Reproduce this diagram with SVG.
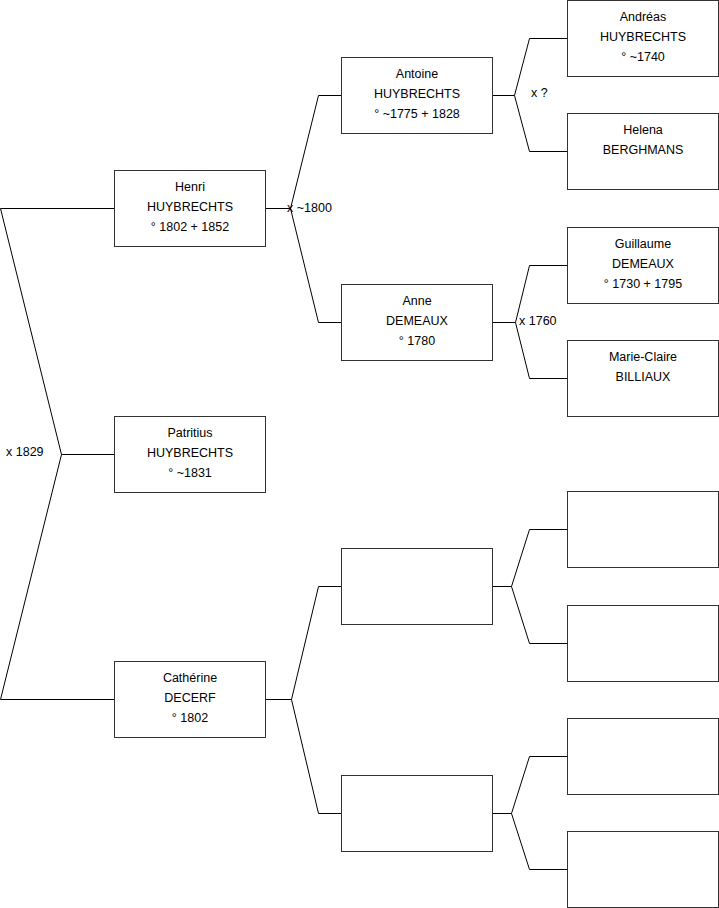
<svg xmlns="http://www.w3.org/2000/svg" width="719" height="908" viewBox="0 0 719 908">
<style>
.box{fill:#fff;stroke:#333;stroke-width:1}
.ln{fill:none;stroke:#000;stroke-width:1}
text{font-family:"Liberation Sans",Arial,sans-serif;font-size:12.5px;fill:#000}
.c{text-anchor:middle}
</style>
<rect width="719" height="908" fill="#fff"/>
<g id="connectors">
<polyline class="ln" points="114,208.5 0.5,208.5 61.5,454.5 0.5,699.5 114,699.5"/>
<line class="ln" x1="61.5" y1="454.5" x2="114" y2="454.5"/>
<polyline class="ln" points="265,208.5 290.5,208.5"/>
<polyline class="ln" points="341,95.5 318.5,95.5 290.5,208.5 318.5,322.5 341,322.5"/>
<polyline class="ln" points="492,95.5 514.5,95.5"/>
<polyline class="ln" points="567,38.5 529.5,38.5 514.5,95.5 529.5,151.5 567,151.5"/>
<polyline class="ln" points="492,322.5 515.5,322.5"/>
<polyline class="ln" points="567,265.5 529.5,265.5 515.5,322.5 529.5,378.5 567,378.5"/>
<polyline class="ln" points="265,699.5 291.5,699.5"/>
<polyline class="ln" points="341,586.5 318.5,586.5 291.5,699.5 318.5,813.5 341,813.5"/>
<polyline class="ln" points="492,586.5 511.5,586.5"/>
<polyline class="ln" points="567,529.5 529.5,529.5 511.5,586.5 529.5,643.5 567,643.5"/>
<polyline class="ln" points="492,813.5 511.5,813.5"/>
<polyline class="ln" points="567,756.5 529.5,756.5 511.5,813.5 529.5,869.5 567,869.5"/>
<text x="6" y="456">x 1829</text>
<text x="287" y="212">x ~1800</text>
<text x="531" y="97">x ?</text>
<text x="519" y="325">x 1760</text>
</g>
<g id="henri"><rect class="box" x="114.5" y="170.5" width="151" height="76"/>
<text class="c" x="190" y="191">Henri</text><text class="c" x="190" y="211">HUYBRECHTS</text><text class="c" x="190" y="231">° 1802 + 1852</text></g>
<g id="patritius"><rect class="box" x="114.5" y="416.5" width="151" height="76"/>
<text class="c" x="190" y="437">Patritius</text><text class="c" x="190" y="457">HUYBRECHTS</text><text class="c" x="190" y="477">° ~1831</text></g>
<g id="catherine"><rect class="box" x="114.5" y="661.5" width="151" height="76"/>
<text class="c" x="190" y="682">Cathérine</text><text class="c" x="190" y="702">DECERF</text><text class="c" x="190" y="722">° 1802</text></g>
<g id="antoine"><rect class="box" x="341.5" y="57.5" width="151" height="76"/>
<text class="c" x="417" y="78">Antoine</text><text class="c" x="417" y="98">HUYBRECHTS</text><text class="c" x="417" y="118">° ~1775 + 1828</text></g>
<g id="anne"><rect class="box" x="341.5" y="284.5" width="151" height="76"/>
<text class="c" x="417" y="305">Anne</text><text class="c" x="417" y="325">DEMEAUX</text><text class="c" x="417" y="345">° 1780</text></g>
<g id="empty1"><rect class="box" x="341.5" y="548.5" width="151" height="76"/></g>
<g id="empty2"><rect class="box" x="341.5" y="775.5" width="151" height="76"/></g>
<g id="andreas"><rect class="box" x="567.5" y="0.5" width="151" height="76"/>
<text class="c" x="643" y="21">Andréas</text><text class="c" x="643" y="41">HUYBRECHTS</text><text class="c" x="643" y="61">° ~1740</text></g>
<g id="helena"><rect class="box" x="567.5" y="113.5" width="151" height="76"/>
<text class="c" x="643" y="134">Helena</text><text class="c" x="643" y="154">BERGHMANS</text></g>
<g id="guillaume"><rect class="box" x="567.5" y="227.5" width="151" height="76"/>
<text class="c" x="643" y="248">Guillaume</text><text class="c" x="643" y="268">DEMEAUX</text><text class="c" x="643" y="288">° 1730 + 1795</text></g>
<g id="marieclaire"><rect class="box" x="567.5" y="340.5" width="151" height="76"/>
<text class="c" x="643" y="361">Marie-Claire</text><text class="c" x="643" y="381">BILLIAUX</text></g>
<g id="empty3"><rect class="box" x="567.5" y="491.5" width="151" height="76"/></g>
<g id="empty4"><rect class="box" x="567.5" y="605.5" width="151" height="76"/></g>
<g id="empty5"><rect class="box" x="567.5" y="718.5" width="151" height="76"/></g>
<g id="empty6"><rect class="box" x="567.5" y="831.5" width="151" height="76"/></g>
</svg>
